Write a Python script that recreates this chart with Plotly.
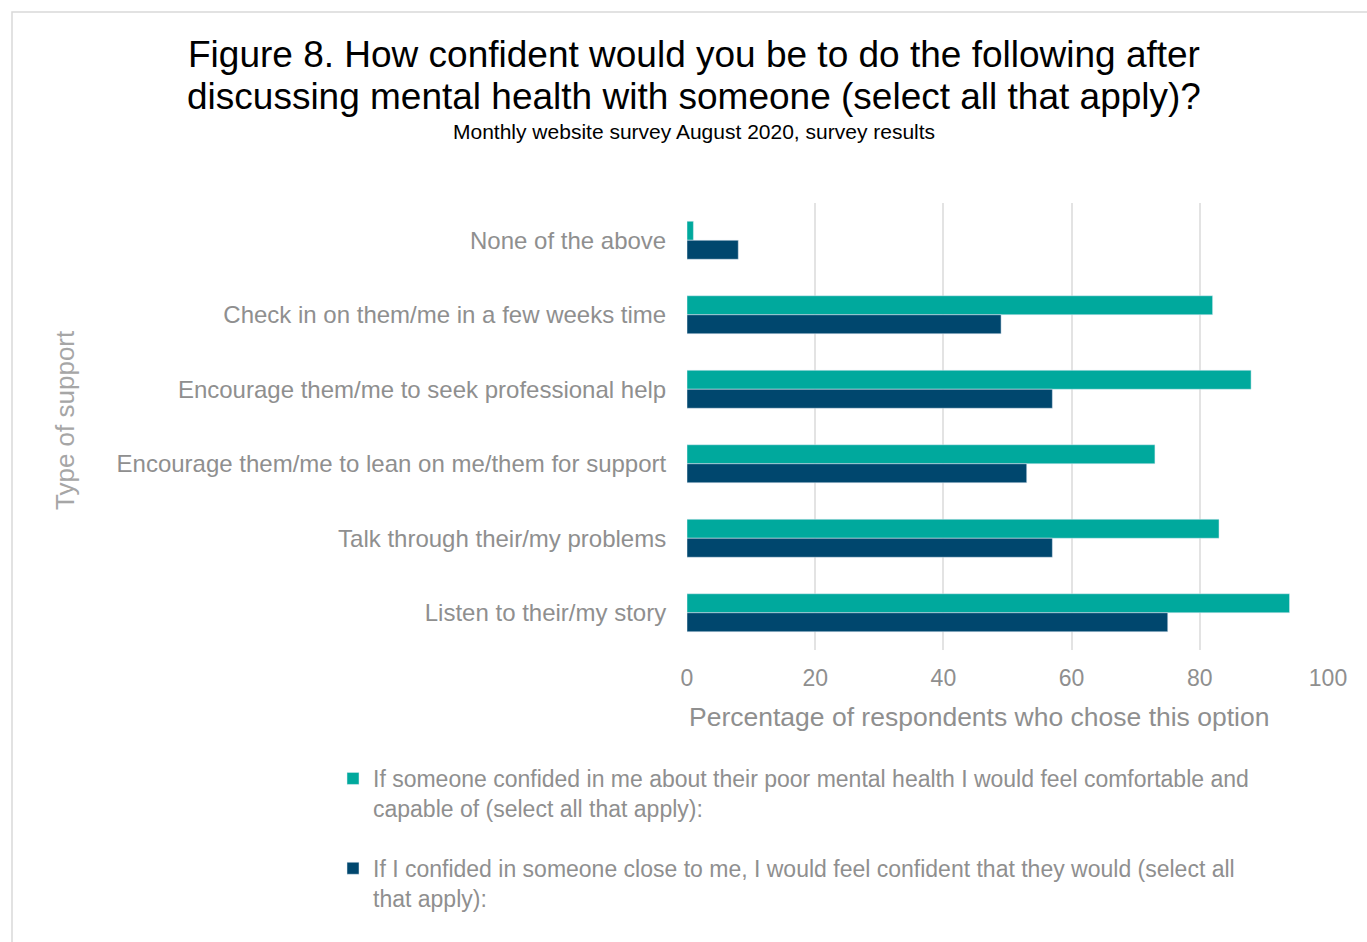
import plotly.graph_objects as go

# Support options, listed top to bottom
categories = [
    "None of the above",
    "Check in on them/me in a few weeks time",
    "Encourage them/me to seek professional help",
    "Encourage them/me to lean on me/them for support",
    "Talk through their/my problems",
    "Listen to their/my story",
]

# Percentage of respondents choosing each option
comfortable_pct = [1, 82, 88, 73, 83, 94]
confident_pct = [8, 49, 57, 53, 57, 75]

x_ticks = [0, 20, 40, 60, 80, 100]

title_lines = [
    "Figure 8. How confident would you be to do the following after",
    "discussing mental health with someone (select all that apply)?",
]
subtitle = "Monthly website survey August 2020, survey results"

name_comfortable = ("If someone confided in me about their poor mental health I would feel comfortable and<br>"
                    "capable of (select all that apply):")
name_confident = ("If I confided in someone close to me, I would feel confident that they would (select all<br>"
                  "that apply):")

TEAL = "#00A99D"
NAVY = "#00476E"
GREY = "#8f8f8f"
FONT = "Liberation Sans, Arial, sans-serif"

fig = go.Figure()
fig.add_trace(go.Bar(
    y=categories, x=comfortable_pct, orientation="h", name=name_comfortable,
    marker=dict(color=TEAL), legendgroup="a",
))
fig.add_trace(go.Bar(
    y=categories, x=confident_pct, orientation="h", name=name_confident,
    marker=dict(color=NAVY), legendgroup="b",
))

W, H = 1367, 942
L, R, T, B = 687, 39, 203, 292
pw, ph = W - L - R, H - T - B

def px_x(p):
    return (p - L) / pw

def px_y(p):
    return 1 - (p - T) / ph

fig.update_layout(
    width=W, height=H,
    margin=dict(l=L, r=R, t=T, b=B),
    paper_bgcolor="white", plot_bgcolor="white",
    font=dict(family=FONT, color=GREY, size=23),
    barmode="group", bargap=0.49, bargroupgap=0,
    xaxis=dict(
        range=[0, 100], tickvals=x_ticks, showgrid=True, gridcolor="#e3e3e3", gridwidth=1.5,
        zeroline=False, showline=False, ticks="outside", ticklen=7, tickcolor="rgba(0,0,0,0)",
        tickfont=dict(size=23, color=GREY), fixedrange=True,
    ),
    yaxis=dict(
        autorange="reversed", showgrid=False, zeroline=False, showline=False,
        ticks="outside", ticklen=15, tickcolor="rgba(0,0,0,0)",
        tickfont=dict(size=24, color=GREY),
    ),
    legend=dict(
        orientation="v", x=px_x(333), xanchor="left", y=px_y(757), yanchor="top",
        font=dict(size=23, color=GREY), tracegroupgap=27, itemclick=False,
        valign="top", bgcolor="rgba(0,0,0,0)",
    ),
    showlegend=True,
)

# chart title and subtitle
for text, yc in zip(title_lines, [55, 97]):
    fig.add_annotation(
        text=text, xref="paper", yref="paper", x=px_x(694), xanchor="center",
        y=px_y(yc), yanchor="middle", showarrow=False,
        font=dict(family=FONT, size=37, color="black"),
    )
fig.add_annotation(
    text=subtitle, xref="paper", yref="paper", x=px_x(694), xanchor="center",
    y=px_y(131), yanchor="middle", showarrow=False,
    font=dict(family=FONT, size=21, color="black"),
)

# x axis title, left-aligned with the plotting area
fig.add_annotation(
    text="Percentage of respondents who chose this option",
    xref="paper", yref="paper", x=0, xanchor="left", y=px_y(717), yanchor="middle",
    showarrow=False, font=dict(size=26.5, color=GREY),
)

# y axis title
fig.add_annotation(
    text="Type of support", textangle=-90,
    xref="paper", yref="paper", x=px_x(65), xanchor="center", y=px_y(420), yanchor="middle",
    showarrow=False, font=dict(size=26, color="#a6a6a6"),
)

# outer frame of the chart area
fig.add_shape(
    type="rect", xref="paper", yref="paper",
    x0=px_x(12), x1=px_x(1400), y0=px_y(12), y1=px_y(1000),
    line=dict(color="#d9d9d9", width=1.5), fillcolor="rgba(0,0,0,0)", layer="below",
)

fig.write_html("out.html")
